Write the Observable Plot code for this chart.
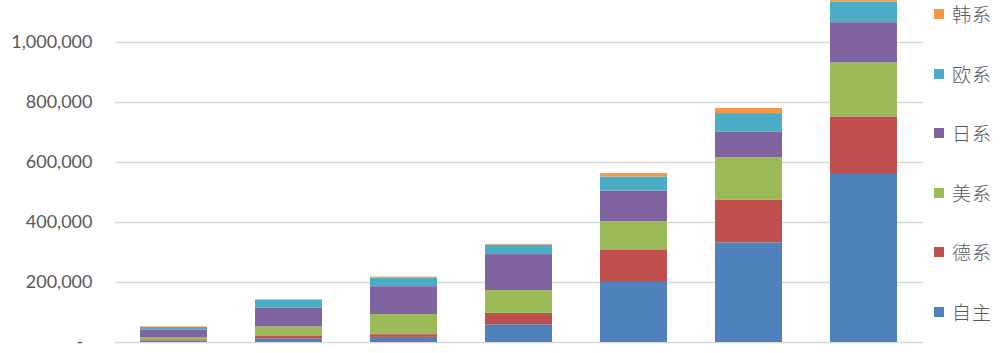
<!DOCTYPE html>
<html>
<head>
<meta charset="utf-8">
<script src="https://cdn.jsdelivr.net/npm/d3@7"></script>
<script src="https://cdn.jsdelivr.net/npm/@observablehq/plot@0.6"></script>
<style>
  html, body { margin: 0; padding: 0; background: #fff; overflow: hidden; }
  #wrap { position: relative; width: 1004px; height: 353px; }
  #legend { position: absolute; left: 0; top: 0; width: 1004px; height: 353px; pointer-events: none; }
  .item { position: absolute; left: 934px; height: 20px; display: flex; align-items: center; }
  .sw { width: 10px; height: 10px; margin-right: 8px; }
  .lab { font-family: "Noto Sans CJK SC", sans-serif; font-weight: 300; font-size: 19px; color: #595959; letter-spacing: 1px; line-height: 20px; }
</style>
</head>
<body>
<div id="wrap"></div>
<script>
// Categories (x labels are cut off in the reference)
const categories = ["2009", "2010", "2011", "2012", "2013", "2014", "2015"];
// Series, bottom to top of each stack
const seriesNames = ["自主", "德系", "美系", "日系", "欧系", "韩系"];
const seriesColors = ["#4f81bd", "#c0504d", "#9bbb59", "#8064a2", "#4bacc6", "#f79646"];
const ziZhu = [5000, 12000, 17000, 59000, 200000, 332000, 560000];
const deXi  = [4000, 8000, 9000, 38000, 109000, 143000, 192000];
const meiXi = [6000, 32000, 67000, 76000, 94000, 141000, 180000];
const riXi  = [27000, 62000, 93000, 120000, 102000, 86000, 134000];
const ouXi  = [8000, 26000, 29000, 32000, 47000, 61000, 69000];
const hanXi = [2000, 2000, 3000, 2000, 11000, 17000, 5000];
const yTicks = [0, 200000, 400000, 600000, 800000, 1000000];

const seriesValues = [ziZhu, deXi, meiXi, riXi, ouXi, hanXi];
const data = [];
categories.forEach((c, i) => {
  seriesNames.forEach((s, j) => data.push({category: c, series: s, value: seriesValues[j][i]}));
});

const fmt = d3.format(",");
const chart = Plot.plot({
  width: 1004,
  height: 353,
  marginLeft: 115,
  marginRight: 81,
  marginTop: 0,
  marginBottom: 11,
  style: {fontFamily: "Lato, 'Open Sans', sans-serif", fontSize: "18px", color: "#595959", background: "#fff"},
  x: {domain: categories, paddingInner: 0.414, paddingOuter: 0.215, axis: null},
  y: {domain: [0, 1140000], axis: null},
  color: {domain: seriesNames, range: seriesColors},
  marks: [
    Plot.ruleY(yTicks, {stroke: "#d9d9d9", strokeWidth: 1.4}),
    Plot.barY(data, {x: "category", y: "value", fill: "series", order: seriesNames}),
    Plot.axisY({ticks: yTicks, label: null, tickSize: 0, tickPadding: 23, tickFormat: d => d === 0 ? "-\u00a0\u00a0" : fmt(d), fill: "#595959", fontSize: 18})
  ]
});

const wrap = document.getElementById("wrap");
wrap.appendChild(chart);

// Legend (top to bottom)
const legend = document.createElement("div");
legend.id = "legend";
const legendOrder = ["韩系", "欧系", "日系", "美系", "德系", "自主"];
const legendY = [14, 73.5, 133, 192.5, 252, 311.5];
legendOrder.forEach((name, k) => {
  const item = document.createElement("div");
  item.className = "item";
  item.style.top = (legendY[k] - 10) + "px";
  const sw = document.createElement("div");
  sw.className = "sw";
  sw.style.background = seriesColors[seriesNames.indexOf(name)];
  const lab = document.createElement("span");
  lab.className = "lab";
  lab.textContent = name;
  item.appendChild(sw);
  item.appendChild(lab);
  legend.appendChild(item);
});
wrap.appendChild(legend);
</script>
</body>
</html>
